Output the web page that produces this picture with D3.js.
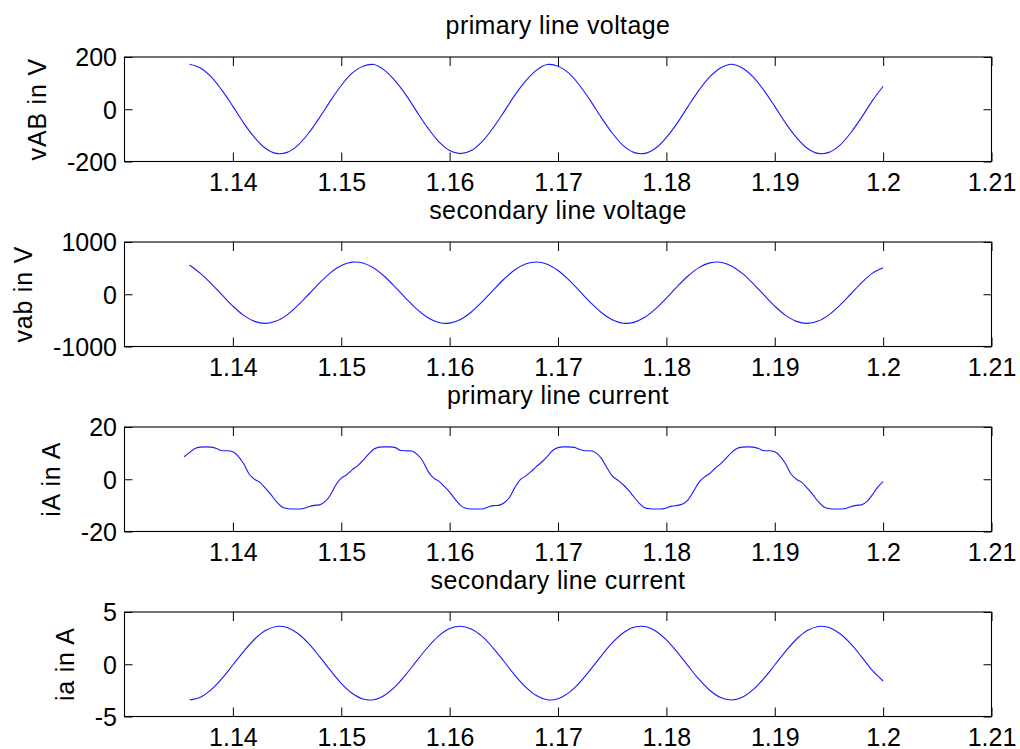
<!DOCTYPE html>
<html>
<head>
<meta charset="utf-8">
<script src="https://cdn.jsdelivr.net/npm/d3@7"></script>
<style>
  html, body { margin: 0; padding: 0; background: #fff; }
  svg { display: block; }
  text { font-family: "Liberation Sans", Arial, sans-serif; fill: #000; }
</style>
</head>
<body>
<script>
// ---------------- data ----------------
const xTicks = [1.14, 1.15, 1.16, 1.17, 1.18, 1.19, 1.2, 1.21];
const xTickLabels = ["1.14", "1.15", "1.16", "1.17", "1.18", "1.19", "1.2", "1.21"];
const xDomain = [1.13, 1.21];

const titles = ["primary line voltage", "secondary line voltage", "primary line current", "secondary line current"];
const yLabels = ["vAB in V", "vab in V", "iA in A", "ia in A"];
const yDomains = [[-200, 200], [-1000, 1000], [-20, 20], [-5, 5]];
const yTicks = [[-200, 0, 200], [-1000, 0, 1000], [-20, 0, 20], [-5, 0, 5]];
const yTickLabels = [["-200", "0", "200"], ["-1000", "0", "1000"], ["-20", "0", "20"], ["-5", "0", "5"]];

// sample times (s): 1 ms grid for the smooth waves, 0.5 ms grid for iA
const tSmooth = d3.range(0, 65).map(k => +(1.136 + k * 0.001).toFixed(4));
const tFine = d3.range(0, 130).map(j => +(1.1355 + j * 0.0005).toFixed(5));

// primary line voltage vAB (V)
const vAB = [172, 158, 124, 72, 11, -53, -108, -149, -169, -165,
  -138, -91, -32, 32, 91, 138, 165, 171, 149, 108,
  53, -11, -72, -124, -158, -170, -158, -124, -72, -11,
  53, 108, 149, 171, 165, 138, 91, 32, -32, -91,
  -138, -165, -169, -149, -108, -53, 11, 72, 124, 158,
  172, 158, 124, 72, 11, -53, -108, -149, -169, -165,
  -138, -91, -32, 32, 88];

// secondary line voltage vab (V)
const vab = [560, 399, 205, -14, -227, -404, -519, -558, -514, -394,
  -214, 0, 219, 410, 549, 614, 598, 501, 339, 133,
  -87, -291, -450, -541, -553, -482, -339, -145, 74, 287,
  464, 579, 618, 574, 454, 274, 60, -159, -350, -489,
  -554, -538, -441, -279, -73, 147, 350, 510, 600, 613,
  542, 399, 205, -14, -227, -404, -519, -558, -514, -394,
  -214, 0, 219, 400, 505];

// primary line current iA (A), 0.5 ms grid
const iA = [8.6, 10.2, 11.8, 12.3, 12.4, 12.3, 11.8, 10.9, 10.9, 10.5,
  8.8, 5.9, 2.0, 0.0, -1.2, -3.4, -5.8, -8.5, -10.5, -11.2,
  -11.4, -11.4, -11.2, -10.5, -10.0, -9.8, -8.6, -6.0, -2.2, 0.4,
  1.7, 3.6, 5.1, 7.2, 9.5, 11.5, 12.3, 12.4, 12.4, 12.1,
  11.0, 10.9, 10.8, 9.5, 7.1, 3.1, 0.5, -0.7, -2.7, -4.9,
  -7.6, -10.0, -11.1, -11.4, -11.4, -11.4, -10.7, -10.1, -10.0, -9.1,
  -7.1, -3.3, -0.2, 1.2, 2.9, 4.8, 6.6, 8.7, 11.0, 12.1,
  12.4, 12.4, 12.2, 11.4, 10.9, 10.9, 10.1, 8.0, 4.5, 1.3,
  -0.3, -2.0, -4.2, -6.7, -9.2, -10.9, -11.3, -11.4, -11.4, -11.0,
  -10.3, -10.0, -9.5, -7.9, -4.7, -1.2, 0.8, 2.2, 4.2, 5.9,
  8.0, 10.2, 11.8, 12.3, 12.4, 12.3, 11.8, 10.9, 10.9, 10.5,
  8.8, 5.9, 2.0, 0.0, -1.2, -3.4, -5.8, -8.5, -10.5, -11.2,
  -11.4, -11.4, -11.2, -10.5, -10.0, -9.8, -8.6, -6.0, -3.0, -0.9];

// secondary line current ia (A)
const ia = [-3.42, -3.16, -2.43, -1.35, -0.07, 1.24, 2.39, 3.22, 3.62, 3.52,
  2.94, 1.97, 0.73, -0.59, -1.82, -2.77, -3.32, -3.39, -2.96, -2.11,
  -0.94, 0.37, 1.65, 2.71, 3.41, 3.64, 3.38, 2.66, 1.57, 0.29,
  -1.02, -2.17, -3.00, -3.40, -3.30, -2.72, -1.75, -0.51, 0.81, 2.04,
  2.99, 3.54, 3.61, 3.18, 2.33, 1.16, -0.15, -1.43, -2.49, -3.19,
  -3.42, -3.16, -2.43, -1.35, -0.07, 1.24, 2.39, 3.22, 3.62, 3.52,
  2.94, 1.97, 0.73, -0.59, -1.6];

const seriesTimes = [tSmooth, tSmooth, tFine, tSmooth];
const seriesValues = [vAB, vab, iA, ia];

// ---------------- layout ----------------
const W = 1020, H = 749;
const left = 124.5, right = 991.5;
const tops = [57, 242, 427, 612];
const plotH = 104.5;
const fontSize = 25;

const svg = d3.select("body").append("svg")
  .attr("width", W).attr("height", H)
  .attr("viewBox", `0 0 ${W} ${H}`);

svg.append("rect").attr("width", W).attr("height", H).attr("fill", "#fff");

const x = d3.scaleLinear().domain(xDomain).range([left, right]);

titles.forEach((title, i) => {
  const top = tops[i], bottom = top + plotH;
  const y = d3.scaleLinear().domain(yDomains[i]).range([bottom, top]);
  const g = svg.append("g");

  // data line
  const pts = seriesTimes[i].map((t, k) => ({ t, v: seriesValues[i][k] }));
  const line = d3.line()
    .x(d => x(d.t)).y(d => y(d.v))
    .curve(i === 2 ? d3.curveMonotoneX : d3.curveCatmullRom);
  g.append("path").datum(pts)
    .attr("d", line)
    .attr("fill", "none")
    .attr("stroke", "#1a1aff")
    .attr("stroke-width", 1.1);

  // bottom axis (ticks inward) + labels
  const xb = g.append("g").attr("transform", `translate(0,${bottom})`)
    .call(d3.axisBottom(x).tickValues(xTicks).tickSizeInner(-9).tickSizeOuter(0)
      .tickFormat((d, k) => xTickLabels[k]));
  xb.select(".domain").remove();
  xb.selectAll(".tick line").attr("stroke", "#000").attr("stroke-width", 1);
  xb.selectAll(".tick text")
    .attr("font-size", fontSize).attr("font-family", "Liberation Sans, Arial, sans-serif")
    .attr("dy", null).attr("y", 29);

  // top ticks (mirrored, no labels)
  const xt = g.append("g").attr("transform", `translate(0,${top})`)
    .call(d3.axisTop(x).tickValues(xTicks).tickSizeInner(-9).tickSizeOuter(0).tickFormat(""));
  xt.select(".domain").remove();
  xt.selectAll(".tick line").attr("stroke", "#000");

  // left axis
  const yl = g.append("g").attr("transform", `translate(${left},0)`)
    .call(d3.axisLeft(y).tickValues(yTicks[i]).tickSizeInner(-8).tickSizeOuter(0)
      .tickFormat((d, k) => yTickLabels[i][k]));
  yl.select(".domain").remove();
  yl.selectAll(".tick line").attr("stroke", "#000");
  yl.selectAll(".tick text")
    .attr("font-size", fontSize).attr("font-family", "Liberation Sans, Arial, sans-serif")
    .attr("x", -7.5).attr("dy", "0.35em");

  // right ticks
  const yr = g.append("g").attr("transform", `translate(${right},0)`)
    .call(d3.axisRight(y).tickValues(yTicks[i]).tickSizeInner(-8).tickSizeOuter(0).tickFormat(""));
  yr.select(".domain").remove();
  yr.selectAll(".tick line").attr("stroke", "#000");

  // frame
  g.append("rect")
    .attr("x", left).attr("y", top)
    .attr("width", right - left).attr("height", plotH)
    .attr("fill", "none").attr("stroke", "#000").attr("stroke-width", 1.1);

  // title
  g.append("text")
    .attr("x", (left + right) / 2).attr("y", top - 23)
    .attr("text-anchor", "middle")
    .attr("font-size", fontSize)
    .attr("letter-spacing", 0.4)
    .text(title);

  // y label, placed left of widest tick label
  let minX = Infinity;
  yl.selectAll(".tick text").each(function () {
    const bb = this.getBBox();
    const ctm = this.getCTM();
    minX = Math.min(minX, bb.x + ctm.e);
  });
  const lx = minX - 21;
  g.append("text")
    .attr("transform", `translate(${lx},${(top + bottom) / 2}) rotate(-90)`)
    .attr("text-anchor", "middle")
    .attr("font-size", fontSize)
    .attr("letter-spacing", 0.8)
    .text(yLabels[i]);
});
</script>
</body>
</html>
